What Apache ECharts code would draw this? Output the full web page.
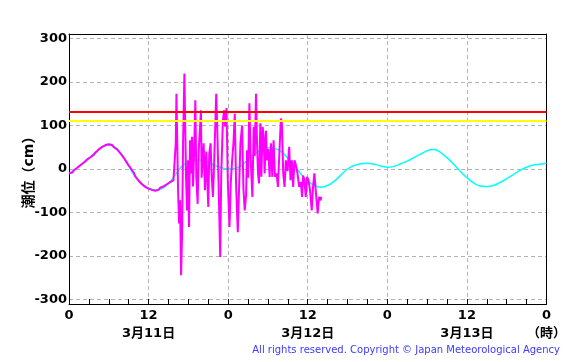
<!DOCTYPE html>
<html>
<head>
<meta charset="utf-8">
<script src="https://cdn.jsdelivr.net/npm/echarts@6/dist/echarts.min.js"></script>
<style>html,body{margin:0;padding:0;background:#fff}#c{width:569px;height:362px}</style>
</head>
<body>
<div id="c"></div>
<script>
// Hours since 3/11 00:00
const predHours = [0,1,2,3,4,5,6,7,8,9,10,11,12,13,14,15,16,17,18,19,20,21,22,23,24,25,26,27,28,29,30,31,32,33,34,35,36,37,38,39,40,41,42,43,44,45,46,47,48,49,50,51,52,53,54,55,56,57,58,59,60,61,62,63,64,65,66,67,68,69,70,71,72];
const predValues = [-10,0,12,25,38,50,55,50,32,7,-18,-34,-44,-48,-45,-34,-14,6,17,20,20,15,8,3,0,1,8,22,35,44,49,47,40,25,8,-12,-28,-38,-42,-38,-28,-14,0,8,12,13,11,7,4,6,12,18,26,34,42,45,38,26,11,-5,-20,-32,-39,-40,-38,-31,-22,-13,-3,4,9,11,13];

const obsHours = [0,0.25,0.5,0.75,1,1.25,1.5,1.75,2,2.25,2.5,2.75,3,3.25,3.5,3.75,4,4.25,4.5,4.75,5,5.25,5.5,5.75,6,6.25,6.5,6.75,7,7.25,7.5,7.75,8,8.25,8.5,8.75,9,9.25,9.5,9.75,10,10.25,10.5,10.75,11,11.25,11.5,11.75,12,12.25,12.5,12.75,13,13.25,13.5,13.75,14,14.25,14.5,14.75,15,15.25,15.5,15.75,
15.95,16.1,16.2,16.3,16.45,16.6,16.75,16.9,17.05,17.2,17.4,17.5,17.65,17.8,17.95,18.1,18.25,18.4,18.55,18.7,18.85,19.05,19.2,19.4,19.55,19.9,20.0,20.15,20.3,20.5,20.7,21.0,21.15,21.35,21.5,21.7,21.9,22.2,22.35,22.55,22.8,22.95,23.2,23.4,23.55,23.75,23.95,24.2,24.4,24.6,24.8,25.0,25.2,25.45,25.65,25.85,26.1,26.3,26.5,26.7,26.85,27.0,27.2,27.4,27.65,27.85,28.0,28.2,28.35,28.5,28.65,28.85,29.0,29.2,29.35,29.5,29.7,29.85,30.05,30.25,30.45,30.65,30.85,31.05,31.3,31.5,31.7,31.95,32.1,32.3,32.5,32.7,32.95,33.2,33.4,33.6,33.8,34.0,34.2,34.45,34.7,34.95,35.15,35.3,35.5,35.7,35.9,36.1,36.35,36.6,36.8,37.0,37.2,37.5,37.7,37.9,38.05];
const obsValues = [-10,-7,-8,-3,-1,3,4,9,11,15,16,22,24,27,31,33,38,40,45,46,51,50,55,53,57,54,55,50,51,45,43,36,33,26,22,14,8,3,-3,-8,-17,-20,-27,-28,-35,-36,-41,-40,-45,-44,-48,-46,-50,-46,-48,-43,-46,-40,-41,-35,-36,-30,-31,-26,
-22,60,173,80,-50,-125,-72,-244,-150,60,219,120,-20,-95,20,-133,66,-10,74,-40,30,158,-20,-80,40,135,-20,20,59,-49,40,-87,36,59,-10,-64,20,173,97,-30,-202,-18,110,135,97,140,-30,-133,-30,20,60,127,-40,-145,-41,59,100,-45,-95,-60,43,-20,151,20,-64,97,30,173,60,-10,-33,105,-18,97,74,-10,88,20,46,-18,59,-18,66,-18,-10,-41,30,116,105,-10,-41,20,-5,51,-26,20,-41,20,10,-10,-41,-30,-64,-15,-26,-64,-18,-25,-50,-95,-41,-10,-49,-102,-64,-72,-64];

const warnLevel = 131;
const advisoryLevel = 110;
const yTickValues = [-300,-200,-100,0,100,200,300];
const dayLabels = {12:'3月11日', 36:'3月12日', 60:'3月13日', 72:'（時）'};

const zip = (a,b) => a.map((v,i)=>[v,b[i]]);
const chart = echarts.init(document.getElementById('c'), null, {renderer:'canvas'});
const font = 'DejaVu Sans, Noto Sans CJK JP, sans-serif';
chart.setOption({
  animation:false,
  backgroundColor:'#fff',
  grid:{left:69, right:20, top:34, bottom:58, show:false},
  xAxis:[{
    type:'value', min:0, max:72, interval:12, position:'bottom',
    axisLine:{show:true, onZero:false, lineStyle:{color:'#000', width:1}},
    axisTick:{show:true, inside:true, length:5, lineStyle:{color:'#000'}},
    minorTick:{show:true, splitNumber:4, length:5, lineStyle:{color:'#000'}},
    splitLine:{show:true, lineStyle:{color:'#b4b4b4', type:[4,3], width:1}},
    axisLabel:{show:true, showMinLabel:true, showMaxLabel:true, margin:3, color:'#000',
      fontFamily:font, fontSize:13, fontWeight:'bold', lineHeight:18,
      formatter:v => { const t = String(v%24); return dayLabels[v] ? t+'\n'+dayLabels[v] : t; }}
  },{
    type:'value', min:0, max:72, position:'top',
    axisLine:{show:true, onZero:false, lineStyle:{color:'#000', width:1}},
    axisTick:{show:false}, axisLabel:{show:false}, splitLine:{show:false}
  }],
  yAxis:[{
    type:'value', min:-310, max:310, position:'left',
    name:'潮位（cm）', nameLocation:'middle', nameGap:33, nameRotate:90, nameMoveOverlap:false,
    nameTextStyle:{color:'#000', fontFamily:font, fontSize:14, fontWeight:'bold'},
    axisLine:{show:true, onZero:false, lineStyle:{color:'#000', width:1}},
    axisTick:{show:false, customValues:yTickValues},
    splitLine:{show:true, lineStyle:{color:'#b4b4b4', type:[4,3], width:1}},
    axisLabel:{show:true, customValues:yTickValues, margin:2, color:'#000',
      fontFamily:font, fontSize:13, fontWeight:'bold'}
  },{
    type:'value', min:-310, max:310, position:'right',
    axisLine:{show:true, onZero:false, lineStyle:{color:'#000', width:1}},
    axisTick:{show:false}, axisLabel:{show:false}, splitLine:{show:false}
  }],
  series:[
    {type:'line', data:zip(predHours,predValues), showSymbol:false, smooth:0.4,
     lineStyle:{color:'#00ffff', width:1.5}, z:2},
    {type:'line', data:zip(obsHours,obsValues), showSymbol:false,
     lineStyle:{color:'#ff00ff', width:2}, z:3},
    {type:'line', data:[[0,advisoryLevel],[72,advisoryLevel]], showSymbol:false,
     lineStyle:{color:'#ffff00', width:2}, z:4},
    {type:'line', data:[[0,warnLevel],[72,warnLevel]], showSymbol:false,
     lineStyle:{color:'#ff0000', width:2}, z:5}
  ],
  graphic:[{type:'text', right:9, top:345,
    style:{text:'All rights reserved. Copyright © Japan Meteorological Agency',
      fill:'#3a3aff', font:'10px DejaVu Sans, sans-serif'}}]
});
</script>
</body>
</html>
